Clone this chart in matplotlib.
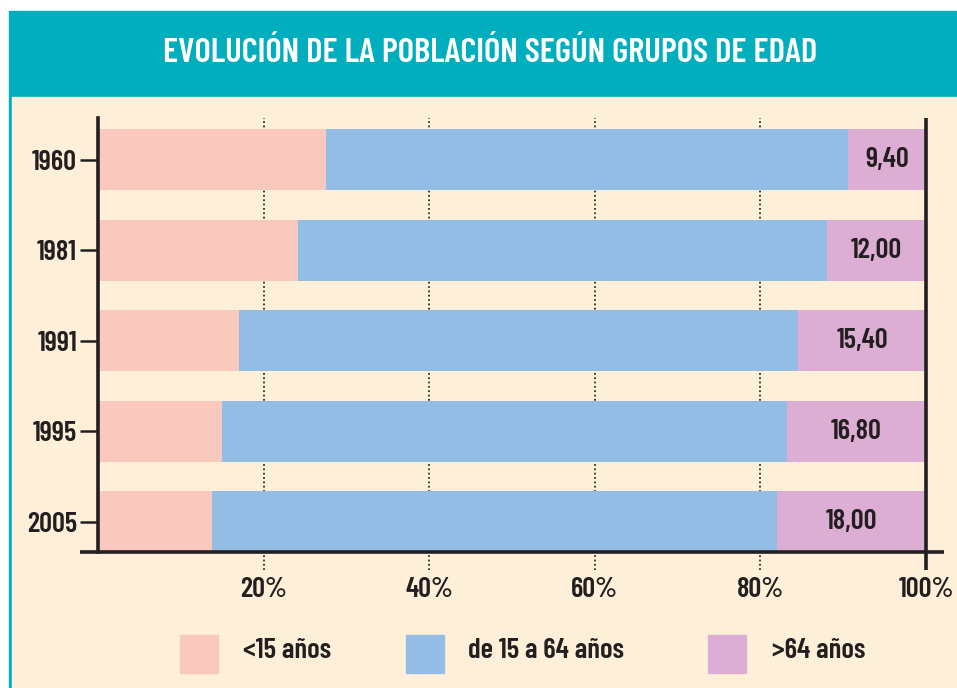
import numpy as np
import matplotlib.pyplot as plt
from matplotlib.patches import Rectangle

years = ['1960', '1981', '1991', '1995', '2005']
menores_15 = [27.5, 24.1, 17.0, 15.0, 13.8]
mayores_64 = [9.40, 12.00, 15.40, 16.80, 18.00]
de_15_a_64 = [100 - a - b for a, b in zip(menores_15, mayores_64)]
etiquetas = ['9,40', '12,00', '15,40', '16,80', '18,00']
series_names = ['<15 años', 'de 15 a 64 años', '>64 años']
x_ticks = [20, 40, 60, 80, 100]

TEAL = '#00AEBD'
CREAM = '#FEF0D8'
PINK = '#F8C9BC'
BLUE = '#94BDE5'
PURPLE = '#DDAED3'
INK = '#231F20'

plt.rcParams['font.family'] = ['Barlow Condensed', 'DejaVu Sans']
plt.rcParams['font.weight'] = 'semibold'

W, H = 957, 688
fig = plt.figure(figsize=(W / 100, H / 100), dpi=100)

def fx(px):
    return px / W

def fy(py):
    return 1 - py / H

# fondo: marco turquesa y panel crema
fig.patches.append(Rectangle((fx(9), 0), 1 - fx(9), fy(11), transform=fig.transFigure,
                             color=TEAL, zorder=-10))
fig.patches.append(Rectangle((fx(12), 0), 1 - fx(12), fy(97), transform=fig.transFigure,
                             color=CREAM, zorder=-9))
fig.text(fx(490), fy(54), 'EVOLUCIÓN DE LA POBLACIÓN SEGÚN GRUPOS DE EDAD',
         color='white', fontsize=25, ha='center', va='center', fontweight='semibold')

ax = fig.add_axes([fx(98), fy(552), fx(926) - fx(98), fy(118) - fy(552)])
ax.set_facecolor('none')

y = np.arange(len(years))
h = 0.674
ax.barh(y, menores_15, height=h, color=PINK, zorder=2)
ax.barh(y, de_15_a_64, left=menores_15, height=h, color=BLUE, zorder=2)
left3 = [a + b for a, b in zip(menores_15, de_15_a_64)]
ax.barh(y, mayores_64, left=left3, height=h, color=PURPLE, zorder=2)

for yi, l, w, txt in zip(y, left3, mayores_64, etiquetas):
    ax.text(l + w / 2, yi, txt, ha='center', va='center', fontsize=20.5,
            color=INK, zorder=3)

ax.set_xlim(0, 100)
ax.set_ylim(4.337, -0.459)

# rejilla punteada
xt = ax.get_xaxis_transform()
for v in x_ticks[:-1]:
    ax.plot([v, v], [-0.0415, 1], transform=xt, color=INK, lw=1.25,
            linestyle=(0, (1, 1.5)), clip_on=False, zorder=1)

# ejes
for s in ['top', 'right', 'bottom']:
    ax.spines[s].set_visible(False)
ax.spines['left'].set_linewidth(2.6)
ax.spines['left'].set_color(INK)
ax.spines['left'].set_zorder(4)
ax.plot([-0.0217, 1.0217], [0, 0], transform=ax.transAxes, color=INK, lw=2.6,
        clip_on=False, zorder=4, solid_capstyle='butt')
ax.plot([1, 1], [-0.0415, 1], transform=ax.transAxes, color=INK, lw=2.6,
        clip_on=False, zorder=4, solid_capstyle='butt')

ax.set_yticks(y)
ax.set_yticklabels(years)
ax.tick_params(axis='y', length=13, width=1.8, color=INK, pad=2, labelsize=20.5,
               labelcolor=INK)
ax.set_xticks(x_ticks)
ax.set_xticklabels([f'{v}%' for v in x_ticks])
ax.tick_params(axis='x', length=0, pad=18, labelsize=20.5, labelcolor=INK)

# leyenda
sq_x = [180, 406, 708]
tx_x = [243, 468, 772]
for sx, tx, c, name in zip(sq_x, tx_x, [PINK, BLUE, PURPLE], series_names):
    fig.patches.append(Rectangle((fx(sx), fy(673)), fx(38), fy(635) - fy(673),
                                 transform=fig.transFigure, color=c, zorder=1))
    fig.text(fx(tx), fy(651), name, fontsize=20.8, color=INK, ha='left',
             va='center')

fig.savefig('out.png', dpi=100)
